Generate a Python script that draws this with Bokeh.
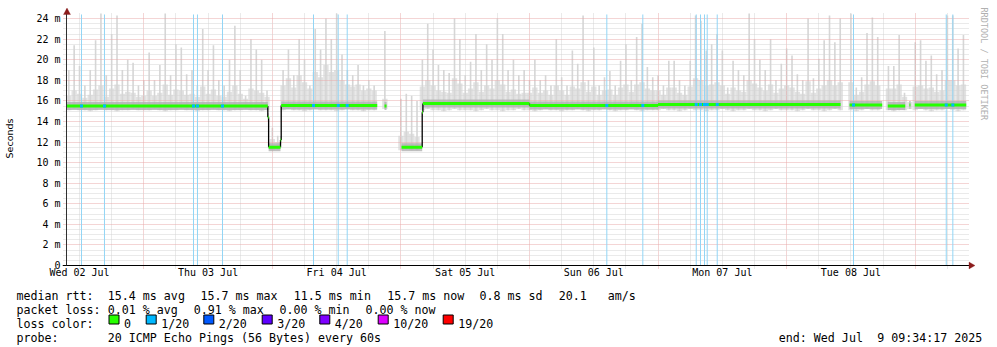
import math
from bokeh.plotting import figure
from bokeh.layouts import column
from bokeh.models import (FixedTicker, PolyAnnotation, Range1d, ColumnDataSource, Title)
from bokeh.core.properties import value
from bokeh.embed import file_html
from bokeh.resources import INLINE

# ---------------- time axis: hours since Wed 02 Jul 2025 00:00 ----------------
t_start = 9 + 34 / 60 + 17 / 3600          # Wed 02 Jul 09:34:17
t_end = t_start + 7 * 24                   # Wed 09 Jul 09:34:17

day_tick_hours = [12, 36, 60, 84, 108, 132, 156]
day_tick_labels = ["Wed 02 Jul", "Thu 03 Jul", "Fri 04 Jul", "Sat 05 Jul",
                   "Sun 06 Jul", "Mon 07 Jul", "Tue 08 Jul"]

y_tick_values = [0, 2, 4, 6, 8, 10, 12, 14, 16, 18, 20, 22, 24]
y_tick_labels = ["0", "2 m", "4 m", "6 m", "8 m", "10 m", "12 m", "14 m",
                 "16 m", "18 m", "20 m", "22 m", "24 m"]
y_top = 24.4

# ---------------- hourly smoke (ping distribution, ms) ----------------
# hours 10..177 ; None = no data
wed02_min = [15.1, 15.2, 15.1, 15.1, 15.0, 15.1, 15.2, 15.1, 15.1, 15.0, 15.1, 15.1, 15.2, 15.1]
thu03_min = [15.1, 15.1, 15.2, 15.1, 15.0, 15.1, 15.1, 15.2, 15.1, 15.1, 15.0, 15.1,
             15.1, 15.2, 15.1, 15.1, 15.0, 15.1, 15.1, 15.2, 15.1, 15.1, 15.0, 15.1]
fri04_min = [11.2, 11.3, 15.1, 15.2, 15.1, 15.1, 15.0, 15.1, 15.2, 15.1, 15.1, 15.1,
             15.0, 15.1, 15.2, 15.1, 15.1, 15.0, 15.1, 15.1, None, 15.2, None, None]
sat05_min = [11.2, 11.3, 11.2, 11.2, 15.1, 15.2, 15.1, 15.1, 15.0, 15.1, 15.2, 15.1,
             15.1, 15.1, 15.0, 15.1, 15.2, 15.1, 15.1, 15.0, 15.1, 15.1, 15.2, 15.1]
sun06_min = [15.1, 15.0, 15.1, 15.2, 15.1, 15.1, 15.0, 15.1, 15.1, 15.2, 15.1, 15.0,
             15.1, 15.1, 15.2, 15.1, 15.0, 15.1, 15.1, 15.2, 15.1, 15.0, 15.1, 15.1]
mon07_min = [15.1, 15.2, 15.1, 15.1, 15.0, 15.1, 15.2, 15.1, 15.1, 15.0, 15.1, 15.1,
             15.2, 15.1, 15.0, 15.1, 15.1, 15.2, 15.1, 15.1, 15.0, 15.1, 15.2, 15.1]
tue08_min = [15.1, 15.1, 15.0, 15.1, 15.2, 15.1, 15.1, 15.0, 15.1, 15.2, 15.1, None,
             15.1, 15.0, 15.1, 15.2, 15.1, 15.1, None, 15.1, 15.0, 15.1, 15.1, 15.2]
wed09_min = [15.1, 15.2, 15.1, 15.0, 15.1, 15.1, 15.2, 15.1, 15.0, 15.1]

wed02_p90 = [16.5, 17.0, 16.7, 16.3, 16.6, 17.1, 17.5, 16.4, 17.2, 17.6, 16.7, 16.9, 16.8, 16.4]
thu03_p90 = [16.5, 17.0, 16.5, 16.8, 17.6, 16.6, 17.1, 17.0, 16.6, 16.7, 16.4, 17.4,
             16.7, 17.1, 16.5, 16.4, 16.9, 17.5, 16.7, 16.2, 17.2, 17.0, 16.8, 16.4]
fri04_p90 = [12.3, 12.0, 17.5, 18.2, 17.3, 18.5, 17.8, 17.2, 18.8, 18.3, 19.5, 18.8,
             19.0, 18.0, 17.6, 17.4, 17.6, 17.0, 17.2, 17.0, None, 16.2, None, None]
sat05_p90 = [12.6, 13.0, 12.8, 12.5, 17.4, 18.0, 17.5, 17.0, 16.9, 16.8, 18.2, 17.7,
             16.8, 17.2, 17.8, 16.9, 17.5, 17.2, 18.0, 17.6, 16.9, 17.1, 16.7, 16.8]
sun06_p90 = [16.8, 17.3, 16.8, 17.0, 16.6, 17.5, 17.0, 16.6, 17.4, 17.2, 17.8, 16.9,
             17.4, 16.6, 17.0, 17.1, 16.6, 17.3, 17.6, 16.9, 17.6, 17.8, 17.2, 17.0]
mon07_p90 = [17.0, 16.6, 17.3, 17.3, 16.8, 16.6, 17.4, 18.2, 18.0, 17.5, 17.6, 17.8,
             17.5, 16.7, 17.3, 17.0, 16.9, 18.0, 17.7, 17.3, 17.0, 17.6, 16.8, 17.2]
tue08_p90 = [17.5, 17.3, 16.9, 16.7, 17.9, 16.8, 17.2, 17.5, 18.0, 17.5, 17.8, None,
             17.8, 16.6, 16.9, 17.6, 17.9, 17.5, None, 17.2, 17.2, 17.6, 16.4, 15.9]
wed09_p90 = [17.4, 17.5, 17.2, 17.3, 16.9, 17.0, 18.0, 18.0, 17.5, 17.6]

wed02_max = [19.0, 21.4, 19.4, 17.5, 19.0, 21.9, 24.5, 18.5, 22.5, 24.3, 19.0, 20.0, 19.7, 17.5]
thu03_max = [18.0, 20.7, 18.0, 19.5, 24.5, 18.5, 21.5, 21.2, 18.6, 19.0, 17.5, 23.0,
             19.0, 21.4, 18.0, 17.5, 20.0, 23.3, 19.0, 16.5, 22.0, 21.0, 20.0, 17.0]
fri04_max = [13.4, 12.6, 19.0, 21.0, 18.5, 22.0, 20.0, 17.5, 23.0, 21.0, 24.0, 22.0,
             24.5, 20.5, 19.0, 18.5, 19.5, 17.5, 18.0, 17.5, None, 22.8, None, None]
sat05_max = [16.2, 16.7, 16.5, 16.0, 20.0, 23.5, 21.0, 19.5, 19.0, 18.7, 24.0, 22.0,
             18.5, 19.8, 22.5, 19.0, 21.5, 20.0, 24.0, 22.5, 19.0, 20.0, 18.5, 19.0]
sun06_max = [18.0, 20.0, 18.0, 18.5, 17.5, 22.0, 18.3, 17.5, 20.9, 19.6, 24.3, 18.0,
             21.2, 17.5, 18.3, 18.9, 17.5, 19.9, 21.5, 18.0, 22.2, 23.5, 19.3, 18.3]
mon07_max = [18.5, 17.5, 19.9, 19.9, 18.0, 17.5, 19.9, 24.3, 23.8, 20.9, 21.5, 22.5,
             20.9, 17.3, 19.9, 19.0, 18.5, 24.5, 22.0, 20.0, 19.0, 22.0, 18.0, 19.6]
tue08_max = [21.1, 20.4, 18.6, 18.0, 24.0, 18.2, 20.1, 21.9, 24.3, 21.7, 24.0, None,
             24.5, 17.3, 18.3, 22.6, 24.1, 22.2, None, 19.4, 19.4, 22.4, 16.8, 16.0]
wed09_max = [21.7, 21.9, 19.9, 20.4, 18.6, 19.0, 24.3, 24.3, 21.1, 22.4]

# ---------------- median rtt (ms), value holds from med_t[i] to med_t[i+1] ----------------
med_t = [t_start, 47.15, 47.30, 49.52, 49.65, 67.57, 68.93, 69.31, 72.11, 75.97, 76.10,
         96.0, 120.0, 154.06, 155.74, 161.84, 162.88, 166.13, 166.93, 167.10, 167.92, 177.52]
med_v = [15.5, 14.4, 11.5, 12.2, 15.55, None, 15.5, None, 11.5, 14.9, 15.75,
         15.55, 15.65, None, 15.6, None, 15.5, None, 15.6, None, 15.6, None]

# ---------------- packet loss events (hour, lost pings of 20) ----------------
loss_t = [12.37, 16.66, 33.28, 34.02, 38.69, 55.68, 60.29, 61.97, 110.43, 117.15,
          127.12, 127.92, 128.67, 129.17, 131.04, 156.48, 173.79, 175.02]
loss_n = [1, 1, 1, 1, 1, 1, 1, 1, 1, 1, 1, 1, 1, 1, 1, 1, 1, 1]

loss_labels = ["0", "1/20", "2/20", "3/20", "4/20", "10/20", "19/20"]
loss_colors = ["#26ff00", "#00b8ff", "#0059ff", "#5e00ff", "#7e00ff", "#dd00ff", "#ff0000"]
loss_thresholds = [0, 1, 2, 3, 4, 10, 19]

# ---------------- statistics ----------------
rtt_avg, rtt_max, rtt_min, rtt_now, rtt_sd, rtt_ams = 15.4, 15.7, 11.5, 15.7, 0.8, 20.1
pl_avg, pl_max, pl_min, pl_now = 0.01, 0.91, 0.00, 0.00
probe_text = "20 ICMP Echo Pings (56 Bytes) every 60s"
end_text = "end: Wed Jul  9 09:34:17 2025"

# =====================================================================
def nz(a):
    return [float("nan") if v is None else v for v in a]

hours = list(range(10, 178))
rtt_lo = nz(wed02_min + thu03_min + fri04_min + sat05_min + sun06_min + mon07_min + tue08_min + wed09_min)
rtt_p90 = nz(wed02_p90 + thu03_p90 + fri04_p90 + sat05_p90 + sun06_p90 + mon07_p90 + tue08_p90 + wed09_p90)
rtt_hi = nz(wed02_max + thu03_max + fri04_max + sat05_max + sun06_max + mon07_max + tue08_max + wed09_max)
smoke = ColumnDataSource(dict(h=hours, lo=rtt_lo, p90=rtt_p90, hi=rtt_hi))

MONO = "DejaVu Sans Mono"
CHAR_W = 7.03                 # advance of one monospace character in the legend text
W = 997
H1 = 284                      # chart part
H2 = 347 - H1                 # text part
PX_H = 900 / 168              # pixels per hour
PX_MS = 10.288                # pixels per ms
AX_X, AX_Y = 66, 265          # canvas position of the axes origin
FL, FR, FT, FB = 62, 975, 7, 269   # frame edges (canvas px)

def hx(px):       # canvas x -> hours
    return t_start + (px - AX_X) / PX_H

def my(py):       # canvas y -> ms
    return (AX_Y - py) / PX_MS

p = figure(width=W, height=H1, output_backend="svg", toolbar_location=None,
           x_range=Range1d(hx(FL), hx(FR)), y_range=Range1d(my(FB), my(FT)),
           min_border_left=FL, min_border_right=W - FR, min_border_top=FT,
           min_border_bottom=H1 - FB)
p.background_fill_color = "white"
p.border_fill_color = "white"
p.outline_line_color = None

# grids
p.xgrid.ticker = FixedTicker(ticks=[24 * d for d in range(1, 8)],
                             minor_ticks=[6 * k for k in range(1, 30) if (6 * k) % 24])
p.ygrid.ticker = FixedTicker(ticks=y_tick_values[1:],
                             minor_ticks=[k / 2 for k in range(1, 49) if k % 4])
for g in (p.xgrid[0], p.ygrid[0]):
    g.grid_line_color = "#e8abab"
    g.grid_line_dash = "1 1"
    g.minor_grid_line_color = "#d4d4d4"
    g.minor_grid_line_dash = "1 1"
if "cross_bounds" in p.xgrid[0].properties():
    p.xgrid[0].cross_bounds = (my(268), my(13))
    p.ygrid[0].cross_bounds = (hx(63), hx(969))

# axes (labels only; the axis lines are drawn at the data origin below)
xa = p.xaxis[0]
xa.ticker = FixedTicker(ticks=day_tick_hours)
xa.major_label_overrides = dict(zip(day_tick_hours, day_tick_labels))
xa.major_tick_line_color = None
xa.minor_tick_line_color = None
xa.major_tick_out = 0
xa.major_tick_in = 0
xa.axis_line_color = None
xa.major_label_text_font = MONO
xa.major_label_text_font_size = "10px"
xa.major_label_text_color = "#000000"
xa.major_label_standoff = -3

ya = p.yaxis[0]
ya.ticker = FixedTicker(ticks=y_tick_values)
ya.major_label_overrides = dict(zip(y_tick_values, y_tick_labels))
ya.major_tick_line_color = None
ya.minor_tick_line_color = None
ya.major_tick_out = 0
ya.major_tick_in = 0
ya.axis_line_color = None
ya.major_label_text_font = MONO
ya.major_label_text_font_size = "10px"
ya.major_label_text_color = "#000000"
ya.major_label_standoff = 2
ya.axis_label = "Seconds"
ya.axis_label_text_font = "DejaVu Sans"
ya.axis_label_text_font_size = "9.5px"
ya.axis_label_text_font_style = "normal"
ya.axis_label_text_color = "#000000"
ya.axis_label_standoff = 18

# smoke
r1 = p.vbar(x="h", width=1.0, bottom="lo", top="p90", source=smoke,
            fill_color="#e2e2e2", line_color=None)
r2 = p.vbar(x="h", width=0.3, bottom="lo", top="hi", source=smoke,
            fill_color="#d6d6d6", line_color=None)
r1.level = "image"
r2.level = "image"

# loss background lines (full plot height)
p.segment(x0=loss_t, x1=loss_t, y0=[0] * len(loss_t), y1=[y_top] * len(loss_t),
          line_color="#92d5f5", line_width=1)

# median: horizontal pieces and vertical joins
hx0, hx1, hy = [], [], []
for i in range(len(med_t) - 1):
    if med_v[i] is not None:
        hx0.append(med_t[i]); hx1.append(med_t[i + 1]); hy.append(med_v[i])
vx, vy0, vy1 = [], [], []
for i in range(1, len(med_t) - 1):
    if med_v[i] is not None and med_v[i - 1] is not None:
        vx.append(med_t[i]); vy0.append(med_v[i - 1]); vy1.append(med_v[i])

p.segment(x0=hx0, x1=hx1, y0=hy, y1=hy, line_color="#b0b0b0", line_width=8, line_alpha=0.8)
p.segment(x0=vx, x1=vx, y0=vy0, y1=vy1, line_color="#000000", line_width=1.3)
p.segment(x0=hx0, x1=hx1, y0=hy, y1=hy, line_color=loss_colors[0], line_width=3)

def med_at(t):
    val = None
    for i in range(len(med_t) - 1):
        if med_t[i] <= t < med_t[i + 1]:
            val = med_v[i]
    return val

lx, ly, lc = [], [], []
for t, n in zip(loss_t, loss_n):
    m = med_at(t)
    if m is not None:
        idx = max(i for i, th in enumerate(loss_thresholds) if n >= th)
        lx.append(t); ly.append(m); lc.append(loss_colors[idx])
p.scatter(x=lx, y=ly, marker="square", size=3, fill_color=lc, line_color=None)

# axis lines through the origin, with arrow heads
p.segment(x0=[hx(62)], x1=[hx(969)], y0=[0], y1=[0], line_color="#000000", line_width=1)
p.segment(x0=[t_start], x1=[t_start], y0=[0], y1=[my(9)], line_color="#303030", line_width=1)
HEAD = "#8c1c1c"
p.add_layout(PolyAnnotation(xs=[hx(968.5), hx(968.5), hx(974.5)], ys=[my(261.5), my(268.5), my(265)],
                            fill_color=HEAD, fill_alpha=1.0, line_color=HEAD, level="overlay"))
p.add_layout(PolyAnnotation(xs=[hx(63), hx(70), hx(66.5)], ys=[my(14), my(14), my(7.5)],
                            fill_color=HEAD, fill_alpha=1.0, line_color=HEAD, level="overlay"))

# vertical credit on the right
p.add_layout(Title(text="RRDTOOL / TOBI OETIKER", text_font=MONO, text_font_size="8.5px",
                   text_color="#b0b0b0", text_font_style="normal", align="left",
                   offset=0, standoff=7), "right")

# ---------------- legend / statistics text block ----------------
q = figure(width=W, height=H2, output_backend="svg", toolbar_location=None,
           x_range=Range1d(0, W), y_range=Range1d(H2, 0), min_border=0,
           x_axis_location=None, y_axis_location=None)
q.background_fill_color = "white"
q.border_fill_color = "white"
q.outline_line_color = None
q.xgrid.visible = False
q.ygrid.visible = False
if "frame_align" in q.properties():
    q.frame_align = False
    p.frame_align = False

def row(y):
    return y - H1

def split_runs(s, x):
    """SVG collapses repeated blanks: emit each word group at its own column."""
    out, col = [], 0
    for part in s.split("  "):
        if part.strip():
            out.append((part.strip(), x + (col + len(part) - len(part.lstrip())) * CHAR_W))
        col += len(part) + 2
    return out

line1 = [("median rtt:", 16), (f"{rtt_avg:.1f} ms avg", 107.3), (f"{rtt_max:.1f} ms max", 200),
         (f"{rtt_min:.1f} ms min", 293.3), (f"{rtt_now:.1f} ms now", 386.7),
         (f"{rtt_sd:.1f} ms sd", 479), (f"{rtt_ams:.1f}", 558.3), ("am/s", 607.3)]
line2 = [("packet loss:", 16), (f"{pl_avg:.2f} % avg", 107.3), (f"{pl_max:.2f} % max", 193.3),
         (f"{pl_min:.2f} % min", 279), (f"{pl_now:.2f} % now", 365)]
box_x = [108.5, 145.7, 203.3, 261.7, 319.3, 377.7, 442.7]
line3 = [("loss color:", 16)] + [(lab, bx + 15) for lab, bx in zip(loss_labels, box_x)]
line4 = [("probe:", 16), (probe_text, 107.3)] + split_runs(end_text, 778.3)

tx, ty, tt = [], [], []
for items, base in ((line1, 295), (line2, 309), (line3, 323), (line4, 337)):
    for s, x in items:
        tx.append(x); ty.append(row(base)); tt.append(s)
q.text(x=tx, y=ty, text=tt, text_font=value(MONO), text_font_size="11.65px",
       text_color="#000000", text_baseline="alphabetic", text_align="left")

q.quad(left=box_x, right=[b + 10 for b in box_x],
       top=[row(314.5)] * len(box_x), bottom=[row(323.5)] * len(box_x),
       fill_color=loss_colors, line_color="#000000", line_width=1)

layout = column(p, q, spacing=0)
open("out.html", "w").write(file_html(layout, INLINE))
